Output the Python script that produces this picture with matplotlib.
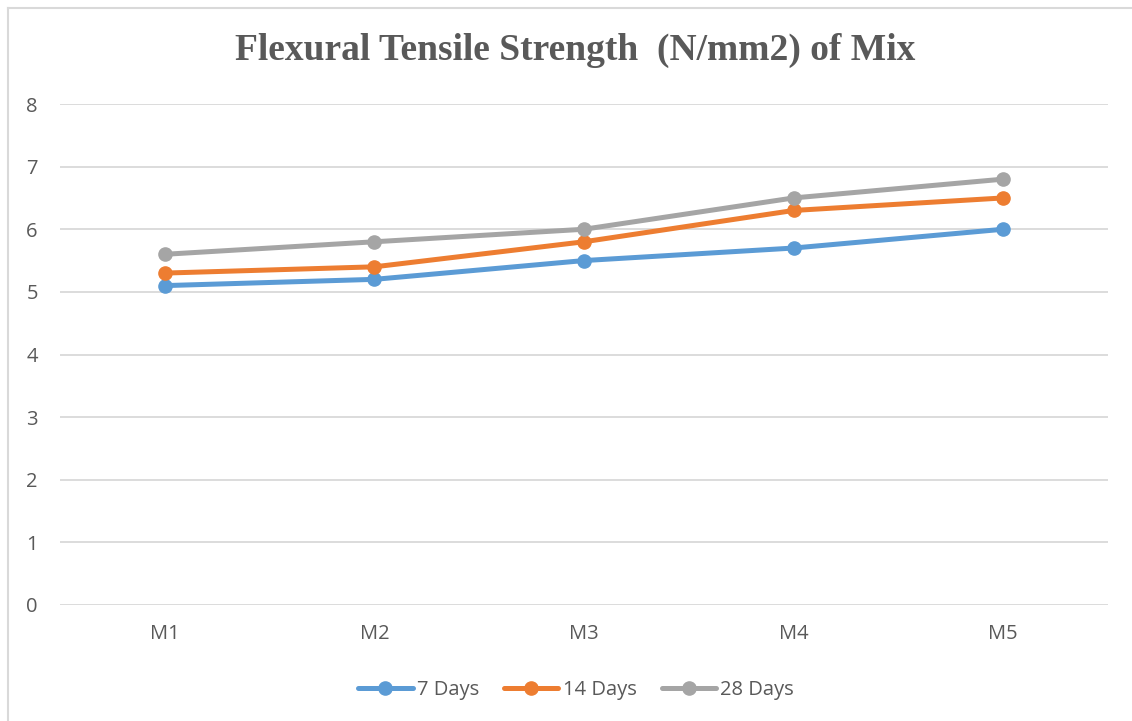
import matplotlib.pyplot as plt
from matplotlib.lines import Line2D
import numpy as np

mixes = ["M1", "M2", "M3", "M4", "M5"]
days_7 = [5.1, 5.2, 5.5, 5.7, 6.0]
days_14 = [5.3, 5.4, 5.8, 6.3, 6.5]
days_28 = [5.6, 5.8, 6.0, 6.5, 6.8]
series_labels = ["7 Days", "14 Days", "28 Days"]
yticks = [0, 1, 2, 3, 4, 5, 6, 7, 8]

colors = ["#5B9BD5", "#ED7D31", "#A5A5A5"]
text_color = "#595959"
grid_color = "#D9D9D9"

plt.rcParams["font.family"] = ["Open Sans", "DejaVu Sans"]

fig = plt.figure(figsize=(11.32, 7.21), dpi=100)
ax = fig.add_axes([60 / 1132, 1 - 605 / 721, 1048 / 1132, 501 / 721])

x = np.arange(len(mixes))
for vals, lab, c in zip([days_7, days_14, days_28], series_labels, colors):
    ax.plot(x, vals, color=c, lw=3.6, marker="o", markersize=9.5,
            label=lab, solid_capstyle="round", zorder=3)

ax.set_xlim(-0.5, len(mixes) - 0.5)
ax.set_ylim(0, 8)
ax.set_yticks(yticks)
ax.set_xticks(x)
ax.set_xticklabels(mixes)
ax.tick_params(length=0, labelsize=14.5, colors=text_color)
ax.tick_params(axis="y", pad=16)
ax.tick_params(axis="x", pad=14)
ax.grid(True, axis="y", color=grid_color, lw=1.3)
ax.set_axisbelow(True)
for s in ax.spines.values():
    s.set_visible(False)

fig.text(0.508, 1 - 50 / 721, "Flexural Tensile Strength  (N/mm2) of Mix",
         ha="center", va="center", fontsize=27, fontweight="bold",
         family="Liberation Serif", color=text_color)

ax.legend(loc="center", bbox_to_anchor=(516 / 1048, (605 - 690) / 501), ncol=3,
          frameon=False, fontsize=14.5, handlelength=2.7, columnspacing=1.25,
          handletextpad=0.2, labelcolor=text_color)

# chart frame
fig.add_artist(Line2D([8 / 1132, 8 / 1132], [0, 1 - 8 / 721],
                      transform=fig.transFigure, color=grid_color, lw=1.5))
fig.add_artist(Line2D([8 / 1132, 1], [1 - 8 / 721, 1 - 8 / 721],
                      transform=fig.transFigure, color=grid_color, lw=1.5))

fig.savefig("out.png", dpi=100)
